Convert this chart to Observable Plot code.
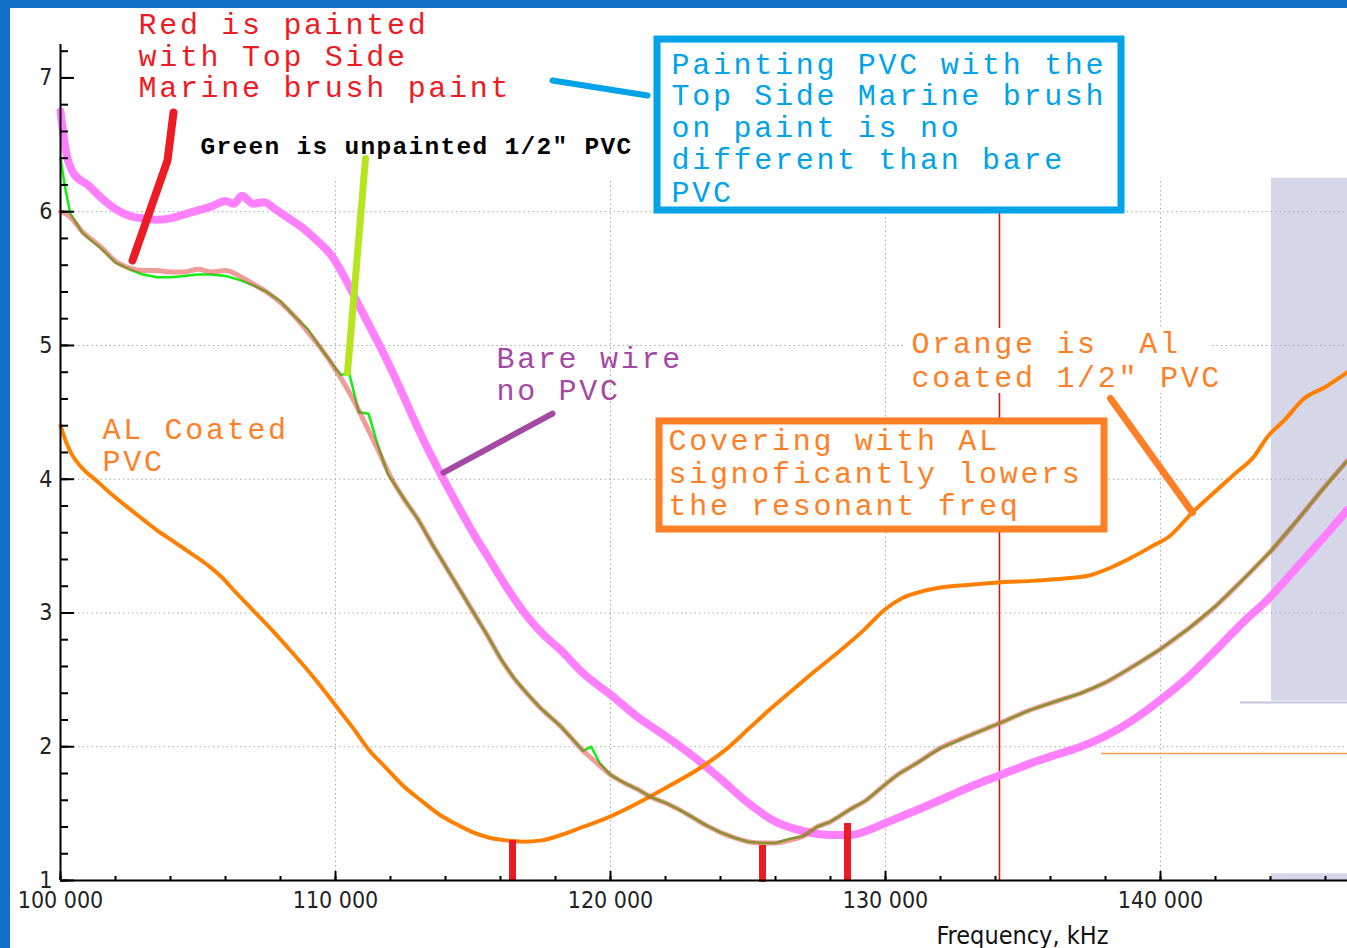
<!DOCTYPE html>
<html><head><meta charset="utf-8">
<script src="https://cdn.jsdelivr.net/npm/d3@7"></script>
<script src="https://cdn.jsdelivr.net/npm/@observablehq/plot@0.6"></script>
<style>
html,body{margin:0;padding:0;background:#fff;}
body{width:1347px;height:948px;overflow:hidden;position:relative;}
#frame{position:absolute;left:0;top:0;width:1347px;height:948px;box-sizing:border-box;border-left:10px solid #1170c6;border-top:8px solid #1170c6;background:#fff;}
#chart{position:absolute;left:10px;top:8px;}
#chart text{white-space:pre;}
#chart g[font-size="30"] text{letter-spacing:2.7px;}
#chart g[font-size="24.5"] text{letter-spacing:1.3px;}
</style></head><body><div id="frame"></div><div id="chart"></div>
<script>
// ---- tick values ----
const xMajor = [100000, 110000, 120000, 130000, 140000];
const xMinor = d3.range(100000, 146801, 2000);
const yMajor = [1, 2, 3, 4, 5, 6, 7];
const yMinor = d3.range(1, 7.21, 0.2);

// ---- series: frequency (Hz) and value ----
const bareX = [100000,100200,100500,101000,101500,102000,102500,103000,103500,104000,104500,105000,105500,106000,106300,106600,107000,107400,107800,108300,108800,109300,109900,110300,110700,111200,111700,112300,112800,113300,113800,114400,115000,115600,116200,116800,117500,118200,119000,120000,121000,122000,123000,124000,125000,126000,127000,128000,128700,129300,130000,130600,131300,132300,133300,134200,135200,136200,137100,138000,139000,140000,141000,142000,143000,143900,145000,146000,146800];
const bareY = [6.75,6.45,6.28,6.2,6.1,6.02,5.97,5.95,5.94,5.95,5.98,6.01,6.04,6.08,6.06,6.12,6.06,6.07,6.02,5.95,5.88,5.79,5.66,5.52,5.36,5.16,4.96,4.70,4.47,4.25,4.05,3.82,3.60,3.40,3.20,3.02,2.85,2.72,2.55,2.39,2.22,2.08,1.93,1.76,1.58,1.44,1.37,1.34,1.34,1.37,1.43,1.48,1.54,1.63,1.72,1.79,1.87,1.94,2.0,2.08,2.2,2.35,2.52,2.72,2.93,3.1,3.35,3.58,3.77];

const paintX = [100000,100300,100800,101500,102000,102500,103000,103500,104000,104500,105000,105500,106000,106500,107000,107500,108000,108500,109000,109500,110000,110500,111000,111500,112000,112500,113000,113500,114000,114500,115000,115500,116000,116500,117000,117500,118200,119000,119500,120000,120500,121000,121500,122000,122500,123000,123500,124000,124500,125000,125500,126000,126500,127000,127500,128000,128700,129300,130000,130500,131000,132000,133000,134200,135200,136200,137100,138000,139000,140000,141000,142000,143000,144000,145000,146000,146800];
const paintY = [6.0,5.97,5.85,5.73,5.63,5.58,5.56,5.56,5.55,5.55,5.57,5.55,5.56,5.52,5.46,5.40,5.32,5.22,5.10,4.97,4.82,4.65,4.45,4.24,4.02,3.85,3.70,3.52,3.35,3.18,3.01,2.84,2.66,2.51,2.39,2.28,2.15,1.97,1.88,1.79,1.73,1.68,1.62,1.58,1.53,1.47,1.41,1.36,1.32,1.29,1.28,1.28,1.30,1.33,1.40,1.44,1.53,1.60,1.72,1.80,1.86,1.99,2.08,2.18,2.27,2.34,2.40,2.48,2.60,2.73,2.88,3.05,3.25,3.46,3.70,3.95,4.14];

const bareX2 = [100000,100150,100350,100800,101500,102000,102500,103000,103500,104000,104500,105000,105500,106000,106500,107000,107500,108000,108500,109000,109500,110000,110200,110500,110850,111200,111500,111900,112500,113000,113500,114000,114500,115000,115500,116000,116500,117000,117500,118200,119000,119300,119600,120000,120500,121000,121500,122000,122500,123000,123500,124000,124500,125000,125500,126000,126500,127000,127500,128000,128700,129300,130000,130500,131000,132000,133000,134200,135200,136200,137100,138000,139000,140000,141000,142000,143000,144000,145000,146000,146800];
const unpaintedY = [6.40,6.20,5.99,5.84,5.72,5.62,5.57,5.53,5.51,5.51,5.52,5.53,5.53,5.52,5.49,5.45,5.40,5.33,5.22,5.12,4.97,4.83,4.78,4.79,4.50,4.49,4.28,4.04,3.85,3.70,3.52,3.35,3.18,3.01,2.84,2.66,2.51,2.39,2.28,2.15,1.97,2.00,1.88,1.79,1.73,1.68,1.62,1.58,1.53,1.47,1.41,1.36,1.32,1.29,1.28,1.28,1.31,1.33,1.40,1.44,1.53,1.60,1.72,1.80,1.86,1.99,2.08,2.18,2.27,2.34,2.40,2.48,2.60,2.73,2.88,3.05,3.25,3.46,3.70,3.95,4.14];

const alX = [100000,100200,100400,100800,101300,101900,102500,103000,103500,104000,104500,105000,105400,105900,106300,107000,107700,108400,109200,110000,110600,111200,111800,112400,113100,113800,114400,115000,115600,116200,116800,117500,118200,119000,120000,121000,121800,122600,123400,124200,125000,125800,126600,127400,128300,129200,130000,130600,131300,132000,133000,134200,135300,136600,137400,138200,139000,139700,140300,141200,142000,142700,143400,143900,144500,145200,146000,146800];
const alY = [4.40,4.28,4.19,4.08,3.99,3.88,3.78,3.70,3.62,3.55,3.48,3.41,3.35,3.26,3.17,3.02,2.87,2.71,2.52,2.31,2.15,1.98,1.85,1.72,1.60,1.49,1.42,1.36,1.32,1.30,1.29,1.30,1.34,1.40,1.48,1.58,1.67,1.76,1.86,1.98,2.13,2.28,2.42,2.56,2.71,2.87,3.03,3.11,3.16,3.19,3.21,3.23,3.24,3.26,3.28,3.34,3.42,3.50,3.57,3.76,3.91,4.04,4.17,4.32,4.44,4.60,4.69,4.80];

// ---- resonance markers and reference lines ----
const markerX = [116436, 125527, 128618];
const markerTop = [1.30, 1.262, 1.426];
const markerBottom = [1.0, 0.985, 1.0];
const cursorX = [134145];
const levelY = [1.949];

// ---- annotation texts ----
const noteRed = ["Red is painted", "with Top Side", "Marine brush paint"];
const noteGreen = ["Green is unpainted 1/2\" PVC"];
const noteBlue = ["Painting PVC with the", "Top Side Marine brush", "on paint is no", "different than bare", "PVC"];
const noteBare = ["Bare wire", "no PVC"];
const noteAl = ["AL Coated", "PVC"];
const noteCover = ["Covering with AL", "signoficantly lowers", "the resonant freq"];
const noteOrange = ["Orange is  Al", "coated 1/2\" PVC"];
const axisLabel = "Frequency, kHz";

const pts = (xs, ys) => xs.map((x, i) => ({x, y: ys[i]}));
const bare = pts(bareX, bareY);
const painted = pts(paintX, paintY);
const unpainted = pts(bareX2, unpaintedY);
const al = pts(alX, alY);
const markers = markerX.map((x, i) => ({x, y1: markerBottom[i], y2: markerTop[i]}));

// annotation layout (data units)
const layout = {
  red:    {x: 102836, y: [7.332, 7.093, 6.854], color: "#ed1c24", size: 30},
  green:  {x: 105091, y: [6.435], color: "#000000", size: 24.5, weight: "bold"},
  blue:   {x: 122218, y: [7.033, 6.794, 6.555, 6.316, 6.076], color: "#00a2e8", size: 30},
  bare:   {x: 115855, y: [4.828, 4.589], color: "#a349a4", size: 30},
  al:     {x: 101527, y: [4.304, 4.065], color: "#ff7f27", size: 30},
  cover:  {x: 122109, y: [4.215, 3.975, 3.736], color: "#ff7f27", size: 30},
  orange: {x: 130945, y: [4.940, 4.686], color: "#ff7f27", size: 30}
};
const textMark = (lines, L) => Plot.text(lines.map((t, i) => ({t, x: L.x, y: L.y[i]})), {
  x: "x", y: "y", text: "t", fill: L.color, fontSize: L.size, fontWeight: L.weight || "normal",
  fontFamily: "'Liberation Mono', 'Courier New', monospace", textAnchor: "start", lineAnchor: "bottom"
});

const pointers = [
  {pts: [[102618, 5.635], [103891, 6.383], [104109, 6.742]], color: "#ed1c24", w: 8},
  {pts: [[110436, 4.798], [111091, 6.398]], color: "#b5e61d", w: 7},
  {pts: [[117891, 6.981], [121345, 6.869]], color: "#00a2e8", w: 6},
  {pts: [[113927, 4.050], [117891, 4.491]], color: "#a349a4", w: 6},
  {pts: [[138182, 4.603], [141164, 3.751]], color: "#ff7f27", w: 7}
];

const gridStyle = {stroke: "#a8a8a8", strokeWidth: 1, strokeDasharray: "1.5,3"};

const chart = Plot.plot({
  width: 1337, height: 940,
  marginLeft: 50, marginRight: 0, marginTop: 36, marginBottom: 68,
  x: {domain: [100000, 146800]},
  y: {domain: [1, 7.25]},
  style: {fontFamily: "'DejaVu Sans Condensed', 'DejaVu Sans', sans-serif", fontStretch: "condensed", fontSize: "23px", color: "#222", background: "transparent"},
  marks: [
    Plot.rect([{x1: 144036, x2: 146800, y1: 2.34, y2: 6.25}, {x1: 144036, x2: 146800, y1: 1.0, y2: 1.05}], {x1: "x1", x2: "x2", y1: "y1", y2: "y2", fill: "#d5d7e9"}),
    Plot.ruleY([2.331], {x1: 142909, x2: 146800, stroke: "#c3c6dc", strokeWidth: 2}),
    Plot.ruleY(yMajor.filter(v => v > 1 && v < 7), gridStyle),
    Plot.ruleX(xMajor.filter(v => v > 100000), {...gridStyle, y1: 1, y2: 6.25}),
    Plot.ruleX(cursorX, {y1: 1, y2: 6.07, stroke: "#ff0000", strokeWidth: 1.5}),
    Plot.ruleY(levelY, {x1: 137855, x2: 146800, stroke: "#ff9a50", strokeWidth: 1.5}),
    Plot.rect([{x1: 130727, x2: 141818, y1: 4.641, y2: 5.127}], {x1: "x1", x2: "x2", y1: "y1", y2: "y2", fill: "white"}),
    Plot.rect([{x1: 121709, x2: 138582, y1: 6.009, y2: 7.287}], {x1: "x1", x2: "x2", y1: "y1", y2: "y2", fill: "white", stroke: "#00a2e8", strokeWidth: 7}),
    Plot.rect([{x1: 121782, x2: 137964, y1: 3.624, y2: 4.432}], {x1: "x1", x2: "x2", y1: "y1", y2: "y2", fill: "white", stroke: "#ff7f27", strokeWidth: 7}),
    Plot.line(bare, {x: "x", y: "y", stroke: "#ff80ff", strokeWidth: 8, curve: "monotone-x"}),
    Plot.line(al, {x: "x", y: "y", stroke: "#ff8000", strokeWidth: 4, curve: "monotone-x"}),
    Plot.line(unpainted, {x: "x", y: "y", stroke: "#11ee11", strokeWidth: 2.5}),
    Plot.line(painted, {x: "x", y: "y", stroke: "#e84848", strokeWidth: 5, strokeOpacity: 0.55, curve: "monotone-x"}),
    Plot.ruleX(markers, {x: "x", y1: "y1", y2: "y2", stroke: "#ed1c24", strokeWidth: 7}),
    ...pointers.map(p => Plot.line(p.pts, {x: d => d[0], y: d => d[1], stroke: p.color, strokeWidth: p.w, strokeLinecap: "round", strokeLinejoin: "round"})),
    // axes
    Plot.ruleX([100000], {stroke: "#000", strokeWidth: 2}),
    Plot.ruleY([1], {stroke: "#000", strokeWidth: 2}),
    Plot.axisY({ticks: yMajor, tickSize: 14, dx: 14, tickFormat: () => "", label: null, stroke: "#000", strokeWidth: 2}),
    Plot.axisY({ticks: yMinor, tickSize: 8, dx: 8, tickFormat: () => "", label: null, stroke: "#000", strokeWidth: 2}),
    Plot.axisX({ticks: xMajor, tickSize: 9, dy: -9, tickFormat: () => "", label: null, stroke: "#000", strokeWidth: 2}),
    Plot.axisX({ticks: xMinor, tickSize: 4, dy: -4, tickFormat: () => "", label: null, stroke: "#000", strokeWidth: 2}),
    Plot.axisY({ticks: yMajor, tickSize: 0, tickPadding: 8, label: null, fontSize: 23, fill: "#222", tickFormat: d3.format("d")}),
    Plot.axisX({ticks: xMajor, tickSize: 0, tickPadding: 11, label: null, fontSize: 23, fill: "#222", tickFormat: d => d3.format(",")(d).replace(/,/g, " ")}),
    Plot.text([axisLabel], {x: 134980, frameAnchor: "bottom", dy: 63, lineAnchor: "bottom", fontSize: 25, fill: "#111"}),
    // annotations
    textMark(noteRed, layout.red),
    textMark(noteGreen, layout.green),
    textMark(noteBlue, layout.blue),
    textMark(noteBare, layout.bare),
    textMark(noteAl, layout.al),
    textMark(noteCover, layout.cover),
    textMark(noteOrange, layout.orange)
  ]
});
document.getElementById("chart").appendChild(chart);
</script></body></html>
